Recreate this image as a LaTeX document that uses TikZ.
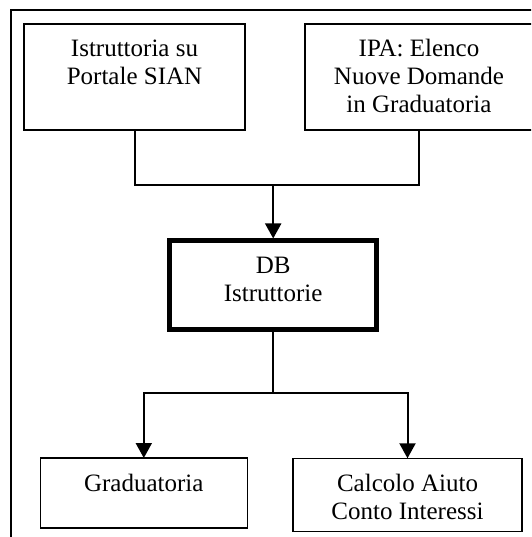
\documentclass[tikz,border=0pt]{standalone}
\usepackage{fontspec}
\setmainfont{Liberation Serif}
\usetikzlibrary{arrows.meta}

% text block inside a box: fixed size, lines centred, first baseline 33pt below the top
\newcommand\blocktext[3]{\parbox[c][#2][t]{#1}{\centering\fontsize{25}{28}\selectfont\rule{0pt}{33pt}#3}}

\tikzset{
  blk/.style={draw=black, line width=1.6pt, inner sep=0pt, outer sep=0pt, fill=white},
  dbblk/.style={draw=black, line width=5pt, inner sep=0pt, fill=white},
  conn/.style={draw=black, line width=2pt},
  arr/.style={conn, -{Triangle[length=15pt,width=16pt]}},
  frame/.style={draw=black, line width=1.6pt}
}

\begin{document}
\begin{tikzpicture}[x=1pt, y=-1pt]
  \useasboundingbox (0,0) rectangle (531,537);
  \clip (0,0) rectangle (531,537);

  % outer frame (open to the right and bottom)
  \draw[frame] (11,545) -- (11,10) -- (545,10);

  % boxes
  \node[blk] (sian) at (134.5,77)
    {\blocktext{221pt}{106pt}{Istruttoria su\\Portale SIAN}};
  \node[blk] (ipa) at (419,77)
    {\blocktext{227.5pt}{106pt}{IPA: Elenco\\Nuove Domande\\in Graduatoria}};
  \node[dbblk] (db) at (273.2,285.2)
    {\blocktext{206.5pt}{88.5pt}{DB\\Istruttorie}};
  \node[blk] (grad) at (143.8,493)
    {\blocktext{207pt}{70pt}{Graduatoria}};
  \node[blk] (calc) at (407.5,494.8)
    {\blocktext{229pt}{73pt}{Calcolo Aiuto\\Conto Interessi}};

  % junction points of the connectors
  \coordinate (jtop) at (273.2,185.5);
  \coordinate (jbot) at (273.2,393.3);

  % connectors
  \draw[conn] (sian.south) |- (jtop);
  \draw[conn] (ipa.south) |- (jtop);
  \draw[arr] (jtop) -- (db.north);
  \draw[conn] (db.south) -- (jbot);
  \draw[arr] (jbot) -| (grad.north);
  \draw[arr] (jbot) -| (calc.north);
\end{tikzpicture}
\end{document}
